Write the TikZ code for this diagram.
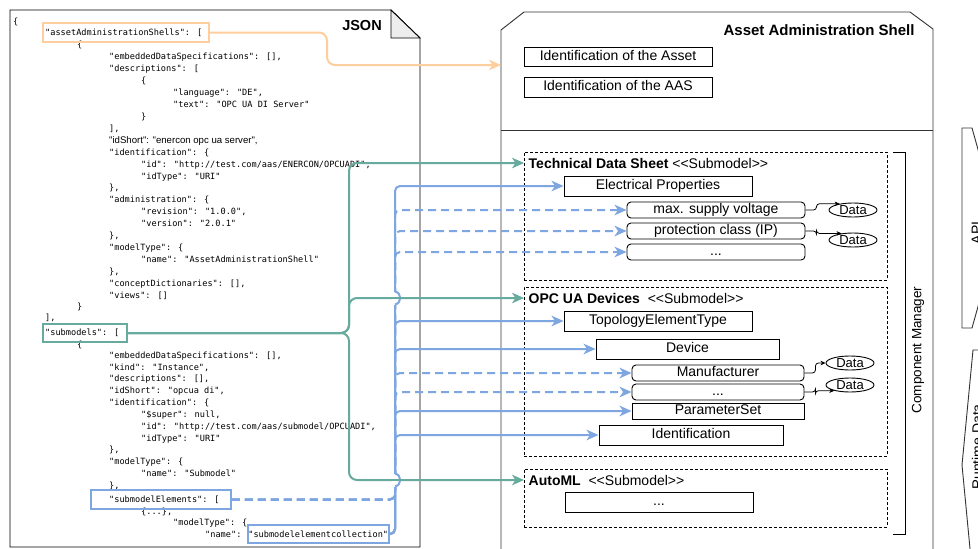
\documentclass[tikz,border=0pt]{standalone}
\usepackage{fontspec}
\setmainfont{Liberation Sans}[Ligatures=TeXOff]
\newfontfamily\jmono{DejaVu Sans Mono}[Ligatures=TeXOff]
\usetikzlibrary{arrows.meta,shapes.geometric}
\definecolor{cgreen}{HTML}{67AB9F}
\definecolor{cblue}{HTML}{7EA6E0}
\definecolor{corange}{HTML}{FFCE9F}
\definecolor{cpanel}{HTML}{333333}
\newcommand\jl[4]{\node[jtxt] (#1) at ({13+32*#2},#3) {#4};}
\begin{document}
\begin{tikzpicture}[x=1pt,y=-1pt,
  jtxt/.style={anchor=west,inner sep=0,font=\jmono\fontsize{8.6}{10}\selectfont,text height=6.3pt,text depth=1.8pt},
  jsans/.style={anchor=west,inner sep=0,font=\fontsize{9.6}{11}\selectfont,text height=6.3pt,text depth=1.8pt},
  lab/.style={font=\fontsize{14}{16}\selectfont},
  box/.style={draw,line width=0.9pt,inner sep=0,lab,text height=10pt,text depth=2.5pt},
  rbox/.style={box,rounded corners=4pt},
  datael/.style={draw,ellipse,line width=0.9pt,inner sep=0,minimum width=48pt,minimum height=14pt,font=\fontsize{13}{15}\selectfont},
  kbox/.style={draw,line width=1.8pt,inner sep=0},
  container/.style={draw,line width=0.8pt,dash pattern=on 3pt off 2pt,inner sep=0},
  panel/.style={draw=cpanel,line width=0.9pt},
  tipbig/.style={-{Stealth[length=12pt,width=10.5pt,inset=3.5pt]}},
  gconn/.style={draw=cgreen,line width=2pt,rounded corners=8pt,tipbig},
  bconn/.style={draw=cblue,line width=2pt,rounded corners=5pt,tipbig},
  bdash/.style={bconn,dash pattern=on 8pt off 5pt},
  oconn/.style={draw=corange,line width=2pt,rounded corners=8pt,tipbig},
  dconn/.style={draw,line width=0.8pt,rounded corners=3pt,-{Stealth[length=5pt,width=4.5pt,inset=1.5pt]}}
]
\useasboundingbox (0,0) rectangle (978,549);
\clip (0,0) rectangle (978,549);
\fill[white] (0,0) rectangle (978,549);

% ---------- JSON panel ----------
\draw[line width=0.9pt] (10,10) -- (391,10) -- (420,38) -- (420,547) -- (10,547) -- cycle;
\filldraw[fill=black!7,line width=0.9pt] (391,10) -- (391,38) -- (420,38) -- cycle;
\node[font=\bfseries\fontsize{14.5}{16}\selectfont] (jsont) at (362,26) {JSON};

\jl{j1}{0}{22}{\{}
\jl{j2}{1}{33}{"assetAdministrationShells": [}
\jl{j3}{2}{45}{\{}
\jl{j4}{3}{57}{"embeddedDataSpecifications": [],}
\jl{j5}{3}{69}{"descriptions": [}
\jl{j6}{4}{81}{\{}
\jl{j7}{5}{93}{"language": "DE",}
\jl{j8}{5}{105}{"text": "OPC UA DI Server"}
\jl{j9}{4}{117}{\}}
\jl{j10}{3}{129}{],}
\node[jsans] (j11) at (109,141) {"idShort": "enercon opc ua server",};
\jl{j12}{3}{153}{"identification": \{}
\jl{j13}{4}{165}{"id": "http://test.com/aas/ENERCON/OPCUADI",}
\jl{j14}{4}{177}{"idType": "URI"}
\jl{j15}{3}{188}{\},}
\jl{j16}{3}{200}{"administration": \{}
\jl{j17}{4}{212}{"revision": "1.0.0",}
\jl{j18}{4}{224}{"version": "2.0.1"}
\jl{j19}{3}{236}{\},}
\jl{j20}{3}{248}{"modelType": \{}
\jl{j21}{4}{260}{"name": "AssetAdministrationShell"}
\jl{j22}{3}{272}{\},}
\jl{j23}{3}{284}{"conceptDictionaries": [],}
\jl{j24}{3}{296}{"views": []}
\jl{j25}{2}{307}{\}}
\jl{j26}{1}{318}{],}
\jl{j27}{1}{333}{"submodels": [}
\jl{j28}{2}{345}{\{}
\jl{j29}{3}{356}{"embeddedDataSpecifications": [],}
\jl{j30}{3}{368}{"kind": "Instance",}
\jl{j31}{3}{379}{"descriptions": [],}
\jl{j32}{3}{391}{"idShort": "opcua di",}
\jl{j33}{3}{403}{"identification": \{}
\jl{j34}{4}{415}{"\$super": null,}
\jl{j35}{4}{427}{"id": "http://test.com/aas/submodel/OPCUADI",}
\jl{j36}{4}{439}{"idType": "URI"}
\jl{j37}{3}{450}{\},}
\jl{j38}{3}{462}{"modelType": \{}
\jl{j39}{4}{474}{"name": "Submodel"}
\jl{j40}{3}{486}{\},}
\jl{j41}{3}{500}{"submodelElements": [}
\jl{j42}{4}{512}{\{...\},}
\jl{j43}{5}{523}{"modelType": \{}
\jl{j44}{6}{535}{"name": "submodelelementcollection"}

% key boxes
\node[kbox,draw=corange,minimum width=166pt,minimum height=19pt] (aasbox) at (126,32.5) {};
\node[kbox,draw=cgreen,minimum width=84pt,minimum height=18pt] (smbox) at (85,333) {};
\node[kbox,draw=cblue,minimum width=140pt,minimum height=19pt] (smebox) at (161,499.5) {};
\node[kbox,draw=cblue,minimum width=141pt,minimum height=18pt] (smecbox) at (318.5,534) {};

% ---------- AAS panel ----------
\draw[panel] (501,570) -- (501,30) -- (524,12) -- (910,12) -- (933,29) -- (933,570);
\draw[panel] (501,130) -- (933,130);
\node[anchor=east,font=\bfseries\fontsize{15}{17}\selectfont] (aast) at (918,30) {Asset Administration Shell};
\node[box,minimum width=188pt,minimum height=19pt] (idasset) at (618,56.5) {Identification of the Asset};
\node[box,minimum width=188pt,minimum height=20pt] (idaas) at (618,87) {Identification of the AAS};

% containers
\node[container,minimum width=363pt,minimum height=128pt] (tdsbox) at (705.5,216) {};
\node[container,minimum width=363pt,minimum height=169pt] (opcbox) at (705.5,371.5) {};
\node[container,minimum width=363pt,minimum height=58pt] (amlbox) at (705.5,498) {};
\node[lab,anchor=west,inner xsep=4.5pt,inner ysep=0] (tdst) at (524,163) {\textbf{Technical Data Sheet} <<Submodel>>};
\node[lab,anchor=west,inner xsep=4.5pt,inner ysep=0] (opct) at (524,298) {\textbf{OPC UA Devices}\ \ <<Submodel>>};
\node[lab,anchor=west,inner xsep=4.5pt,inner ysep=0] (amlt) at (524,480) {\textbf{AutoML}\ \ <<Submodel>>};

% Technical data sheet items
\node[box,minimum width=188pt,minimum height=20pt] (ep) at (658,186) {Electrical Properties};
\node[rbox,minimum width=178pt,minimum height=16pt] (msv) at (716,210) {max. supply voltage};
\node[rbox,minimum width=178pt,minimum height=16pt] (pc) at (716,231) {protection class (IP)};
\node[rbox,minimum width=178pt,minimum height=16pt] (tdsdots) at (716,252) {...};
\node[datael] (d1) at (853,210) {Data};
\node[datael] (d2) at (853,240) {Data};

% OPC UA devices items
\node[box,minimum width=188pt,minimum height=20pt] (tet) at (658,321) {TopologyElementType};
\node[box,minimum width=183pt,minimum height=20pt] (dev) at (687.5,349) {Device};
\node[rbox,minimum width=172pt,minimum height=16pt] (man) at (718,373) {Manufacturer};
\node[rbox,minimum width=172pt,minimum height=16pt] (od) at (718,392) {...};
\node[box,minimum width=172pt,minimum height=16pt] (ps) at (718,411) {ParameterSet};
\node[box,minimum width=184pt,minimum height=20pt] (ident) at (691,435) {Identification};
\node[datael] (d3) at (850,363) {Data};
\node[datael] (d4) at (850,385) {Data};

% AutoML item
\node[box,minimum width=188pt,minimum height=20pt] (amdots) at (659,502) {...};

% Data connectors
\draw[dconn] (msv.east) -- ++(11,0) |- (d1.155);
\draw[dconn] (pc.east) -- ++(11,0) |- (d2.150);
\draw[dconn] (man.east) -- ++(11,0) |- (d3.west);
\draw[dconn] (od.east) -- ++(11,0) |- (d4.200);

% Component manager
\draw[line width=0.9pt] (893,152) -- (905,152) -- (905,534) -- (893,534);
\node[rotate=90,font=\fontsize{13.5}{15}\selectfont] (cm) at (918,350) {Component Manager};

% API / Runtime Data
\draw[panel] (962,128) -- (972,128) -- (1000,228) -- (972,328) -- (962,328) -- cycle;
\node[lab,rotate=90] (api) at (976.5,233) {API};
\draw[panel] (973,350) -- (1010,350) -- (1010,580) -- (973,580) -- (962,465) -- cycle;
\node[lab,rotate=90] (rtd) at (977,447) {Runtime Data};

% ---------- connectors ----------
\coordinate (oc) at (327,32.5);
\coordinate (aasin) at (501,65);
\draw[oconn] (aasbox.east) -- (oc) |- (aasin);

\coordinate (bt) at (395,534);
\coordinate (bd) at (395,499.5);
\draw[bdash] (smebox.east) -- (bd) |- (msv.west);
\draw[bdash] (smebox.east) -- (bd) |- (pc.west);
\draw[bdash] (smebox.east) -- (bd) |- (tdsdots.west);
\draw[bdash] (smebox.east) -- (bd) |- (man.west);
\draw[bdash] (smebox.east) -- (bd) |- (od.west);
\draw[bconn] (smecbox.east) -- (bt) |- (ep.west);
\draw[bconn] (smecbox.east) -- (bt) |- (tet.west);
\draw[bconn] (smecbox.east) -- (bt) |- (dev.west);
\draw[bconn] (smecbox.east) -- (bt) |- (ps.west);
\draw[bconn] (smecbox.east) -- (bt) |- (ident.west);

\coordinate (gb) at (349,333);
\draw[gconn] (smbox.east) -- (gb) |- (tdst.west);
\draw[gconn] (smbox.east) -- (gb) |- (opct.west);
\draw[gconn] (smbox.east) -- (gb) |- (amlt.west);

% line jumps of the blue trunk over the green connectors
\foreach \yy in {298,480}{
  \fill[white] (392,\yy-6.5) rectangle (398.2,\yy+6.5);
  \draw[cblue,line width=2pt] (395,\yy-6.5) .. controls (402,\yy-5) and (402,\yy+5) .. (395,\yy+6.5);
  \draw[cgreen,line width=2pt] (389,\yy) -- (402,\yy);
}
\end{tikzpicture}
\end{document}
